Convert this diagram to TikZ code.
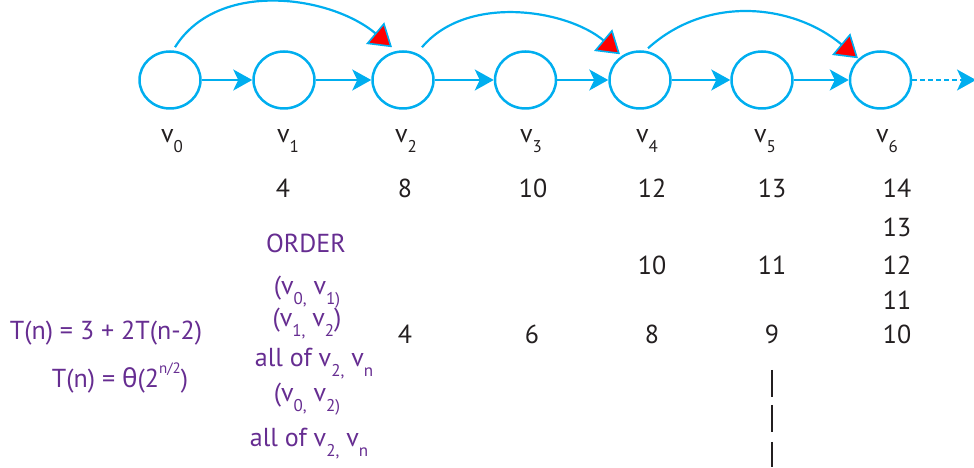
\documentclass[tikz,border=0pt]{standalone}
\usepackage{fontspec}
\setmainfont{PT Sans}
\newfontfamily\grk{Noto Sans}
\usetikzlibrary{shapes.geometric,arrows.meta,calc}
\definecolor{cy}{RGB}{0,174,239}
\definecolor{pu}{RGB}{102,45,145}
\definecolor{tx}{RGB}{35,31,32}
\newcommand\sbs[1]{\raisebox{-0.36em}{\fontsize{17}{17}\selectfont #1}}
\newcommand\sps[1]{\raisebox{0.55em}{\fontsize{15}{15}\selectfont #1}}
\begin{document}
\begin{tikzpicture}[x=1pt,y=1pt,
 vert/.style={ellipse,draw=cy,line width=2.5pt,minimum width=61pt,minimum height=57pt,inner sep=0pt},
 seq/.style={draw=cy,line width=2.2pt,-{Stealth[length=19pt,width=21pt,inset=5pt]}},
 skip/.style={draw=cy,line width=2.2pt,-{Triangle[length=22pt,width=28pt,fill=red,line width=1.6pt]}},
 lab/.style={text=tx,anchor=base,inner sep=0pt,font=\fontsize{26}{30}\selectfont},
 ptxt/.style={text=pu,anchor=base,inner sep=0pt,font=\fontsize{26}{30}\selectfont},
 bar/.style={draw=tx,line width=1.8pt}
]
\useasboundingbox (0,0) rectangle (974,468);
% vertices
\node[vert] (v0) at (170,388) {};
\node[vert] (v1) at (284,388) {};
\node[vert] (v2) at (403,388) {};
\node[vert] (v3) at (525.5,388) {};
\node[vert] (v4) at (640,388) {};
\node[vert] (v5) at (762,388) {};
\node[vert] (v6) at (880.5,388) {};
\coordinate (vend) at (976,388);
% sequential edges
\draw[seq] (v0) -- (v1);
\draw[seq] (v1) -- (v2);
\draw[seq] (v2) -- (v3);
\draw[seq] (v3) -- (v4);
\draw[seq] (v4) -- (v5);
\draw[seq] (v5) -- (v6);
\draw[seq,line width=2pt,dash pattern=on 5pt off 3pt] (v6) -- (vend);
% skip edges
\draw[skip] ($(v0.north)+(5,3)$) to[out=58,in=140,looseness=0.95] ($(v2.north)+(-11,3)$);
\draw[skip] ($(v2.north)+(19,3)$) to[out=50,in=140,looseness=0.9] ($(v4.north)+(-20,-4)$);
\draw[skip] ($(v4.north)+(8,2)$) to[out=42,in=140,looseness=1.0] ($(v6.north)+(-22.5,-8)$);
% labels
\node[lab] (l0) at (172,325) {v\sbs{0}};
\node[lab] (l1) at (288,325) {v\sbs{1}};
\node[lab] (l2) at (406,325) {v\sbs{2}};
\node[lab] (l3) at (531,325) {v\sbs{3}};
\node[lab] (l4) at (647,325) {v\sbs{4}};
\node[lab] (l5) at (765,325) {v\sbs{5}};
\node[lab] (l6) at (887,325) {v\sbs{6}};
% numbers
\node[lab] (n11) at (283,270) {4};
\node[lab] (n12) at (405,270) {8};
\node[lab] (n13) at (533,270) {10};
\node[lab] (n14) at (652,270) {12};
\node[lab] (n15) at (772,270) {13};
\node[lab] (n16) at (897,270) {14};
\node[lab] (n26) at (897,231) {13};
\node[lab] (n34) at (652,193) {10};
\node[lab] (n35) at (772,193) {11};
\node[lab] (n36) at (897,193) {12};
\node[lab] (n46) at (897,158) {11};
\node[lab] (n52) at (405,124) {4};
\node[lab] (n53) at (532,124) {6};
\node[lab] (n54) at (652,124) {8};
\node[lab] (n55) at (772,124) {9};
\node[lab] (n56) at (897,124) {10};
\draw[bar] (772,98) -- (772,71);
\draw[bar] (772,63) -- (772,36);
\draw[bar] (772,26) -- (772,1);
% purple text
\node[ptxt] (ord) at (306,215) {ORDER};
\node[ptxt] (o1) at (307,173) {(v\sbs{0,} v\sbs{1)}};
\node[ptxt] (o2) at (307,141) {(v\sbs{1,} v\sbs{2})};
\node[ptxt] (o3) at (314,101) {all of v\sbs{2,} v\sbs{n}};
\node[ptxt] (o4) at (307,66) {(v\sbs{0,} v\sbs{2)}};
\node[ptxt] (o5) at (309,21) {all of v\sbs{2,} v\sbs{n}};
\node[ptxt] (t1) at (106,128) {T(n) = 3 + 2T(n-2)};
\node[ptxt] (t2) at (120,80) {T(n) = {\grk θ}(2\sps{n/2})};
\end{tikzpicture}
\end{document}
